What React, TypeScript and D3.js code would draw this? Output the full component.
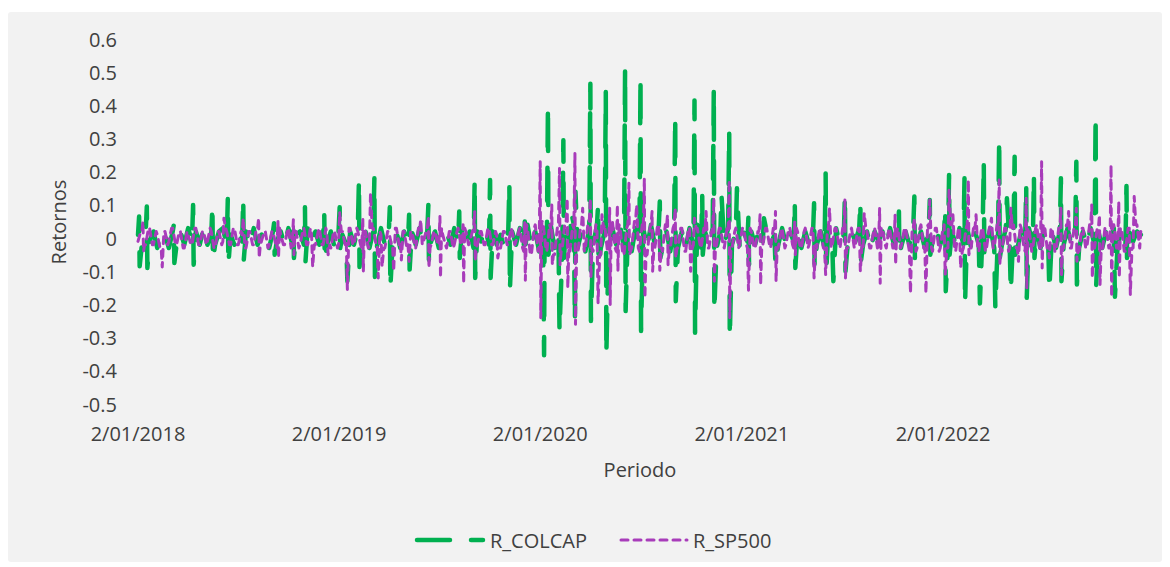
import React from "react";
import * as d3 from "d3";

// Readings are keyed by days since START_DATE (2018-01-02):
// weekly readings on day 7k, mid-week readings on day 7k+5 and
// daily readings on the days where the return jumps ([day, return]).
const START_DATE = "2018-01-02";
const WEEK = 7;
const MIDWEEK_OFFSET = 5;

const seriesNames = ["R_COLCAP", "R_SP500"];

const colcapWeekly = [
  0.01, -0.02, 0.02, -0.01, 0.02, -0.03, 0.02, 0.01, -0.03, 0.02,
  -0.02, 0.02, -0.02, 0.03, -0.01, 0.02, -0.02, 0.03, -0.02, 0.01,
  -0.02, 0.02, 0.03, -0.02, 0.01, -0.02, 0.02, -0.01, 0.02, -0.02,
  0.03, -0.02, 0.01, 0.02, -0.03, 0.02, -0.01, 0.02, -0.02, 0.03,
  -0.02, 0.01, 0.02, -0.02, 0.03, -0.01, 0.02, -0.02, 0.01, -0.02,
  0.02, -0.03, 0.02, 0.01, -0.02, 0.02, -0.02, 0.03, -0.01, 0.02,
  -0.03, 0.02, -0.02, 0.03, -0.02, 0.01, -0.02, 0.02, -0.03, 0.02,
  -0.01, 0.02, -0.02, 0.03, -0.02, 0.02, -0.01, 0.02, -0.03, 0.01,
  0.02, -0.02, 0.03, -0.01, 0.02, -0.02, 0.02, -0.03, 0.02, -0.01,
  0.03, -0.02, 0.02, -0.02, 0.01, -0.03, 0.02, 0.02, -0.02, 0.03,
  -0.03, 0.04, -0.03, 0.02, -0.04, 0.03, -0.02, 0.04, -0.03, 0.02,
  -0.04, 0.03, -0.02, 0.04, -0.03, 0.02, -0.04, 0.03, -0.02, 0.04,
  -0.03, 0.02, -0.04, 0.03, -0.02, 0.04, -0.03, 0.02, -0.04, 0.03,
  -0.02, 0.03, -0.03, 0.04, -0.02, 0.03, -0.03, 0.02, -0.04, 0.03,
  -0.03, 0.02, -0.03, 0.03, -0.02, 0.04, -0.03, 0.02, -0.02, 0.03,
  -0.03, 0.02, -0.02, 0.03, -0.02, 0.02, -0.03, 0.02, -0.01, 0.02,
  -0.02, 0.03, -0.01, 0.02, -0.02, 0.01, -0.02, 0.03, -0.02, 0.02,
  -0.01, 0.02, -0.03, 0.02, -0.02, 0.01, -0.02, 0.02, -0.03, 0.02,
  -0.02, 0.03, -0.02, 0.01, -0.02, 0.02, -0.01, 0.03, -0.02, 0.02,
  -0.03, 0.02, -0.01, 0.02, -0.02, 0.03, -0.02, 0.01, -0.02, 0.02,
  -0.02, 0.03, -0.02, 0.02, -0.03, 0.02, -0.01, 0.03, -0.02, 0.02,
  -0.03, 0.02, -0.02, 0.03, -0.02, 0.03, -0.03, 0.02, -0.02, 0.03,
  -0.02, 0.03, -0.03, 0.02, -0.02, 0.03, -0.02, 0.03, -0.03, 0.02,
  -0.02, 0.03, -0.02, 0.02, -0.03, 0.03, -0.02, 0.02, -0.03, 0.02,
  -0.02, 0.03, -0.02, 0.03, -0.03, 0.02, -0.02, 0.03, -0.02, 0.02,
  -0.03, 0.02, -0.02, 0.03, -0.02, 0.02, -0.03, 0.02, -0.01, 0.02,
  0.01,
];

const colcapJumps: [number, number][] = [
  [2, 0.065], [3, -0.085], [16, 0.095], [17, -0.09], [65, 0.04], [66, -0.075],
  [100, 0.10], [101, -0.08], [135, 0.10], [136, -0.066], [163, 0.12], [164, -0.08],
  [191, 0.12], [192, -0.065], [247, 0.045], [248, -0.05], [282, 0.05], [283, -0.06],
  [303, 0.094], [304, -0.07], [338, 0.078], [339, -0.066], [366, 0.093], [367, -0.03],
  [380, -0.13], [401, 0.175], [402, -0.087], [429, 0.18], [430, -0.117],
  [457, 0.093], [458, -0.15], [492, 0.07], [493, -0.095], [527, 0.10], [528, -0.07],
  [583, 0.08], [584, -0.06], [611, 0.175], [612, -0.12], [639, 0.175], [640, -0.12],
  [674, 0.165], [675, -0.157], [702, 0.05], [703, -0.03],
  [737, -0.353], [738, 0.05], [744, 0.40], [745, -0.05], [765, -0.28],
  [772, 0.295], [773, -0.06], [786, 0.08], [793, -0.25], [794, 0.14],
  [821, 0.465], [822, -0.25], [835, 0.10], [836, -0.08], [849, 0.44], [850, -0.35],
  [884, 0.51], [885, -0.22], [912, 0.485], [913, -0.28], [947, 0.11], [948, -0.06],
  [975, 0.365], [976, -0.19], [1010, 0.415], [1011, -0.285], [1024, 0.13], [1025, -0.05],
  [1045, 0.45], [1046, -0.22], [1059, 0.13], [1073, 0.32], [1074, -0.30], [1087, 0.15],
  [1108, 0.07], [1109, -0.08], [1136, 0.06], [1157, -0.08], [1192, 0.11], [1193, -0.09],
  [1227, 0.105], [1228, -0.087], [1248, 0.195], [1249, -0.1], [1262, -0.13],
  [1283, 0.13], [1284, -0.10], [1311, 0.11], [1312, -0.07], [1381, 0.08], [1382, -0.05],
  [1409, 0.125], [1410, -0.06], [1437, 0.115], [1438, -0.05], [1465, 0.09], [1466, -0.16],
  [1472, 0.19], [1473, -0.05], [1500, 0.18], [1501, -0.197], [1528, -0.197],
  [1535, 0.23], [1536, -0.05], [1556, -0.21], [1563, 0.30], [1564, -0.06],
  [1577, 0.12], [1584, -0.16], [1591, 0.245], [1592, -0.05], [1612, 0.16], [1613, -0.18],
  [1626, 0.19], [1627, -0.06], [1654, -0.157], [1675, 0.18], [1676, -0.13],
  [1703, 0.23], [1704, -0.14], [1738, 0.37], [1739, -0.145], [1773, -0.177],
  [1794, 0.157], [1795, -0.06],
];

const sp500Weekly = [
  -0.01, 0.02, -0.02, 0.03, -0.02, 0.01, -0.03, 0.02, -0.01, 0.03,
  -0.02, 0.02, -0.03, 0.01, -0.02, 0.03, -0.02, 0.02, -0.01, 0.02,
  -0.03, 0.02, -0.01, 0.02, -0.02, 0.03, -0.02, 0.01, -0.03, 0.02,
  -0.02, 0.03, -0.01, 0.02, -0.02, 0.02, -0.03, 0.01, -0.02, 0.03,
  -0.01, 0.02, -0.02, 0.03, -0.02, 0.01, -0.02, 0.03, -0.02, 0.01,
  -0.03, 0.02, -0.02, 0.02, -0.01, 0.03, -0.02, 0.02, -0.03, 0.02,
  -0.02, 0.03, -0.02, 0.01, -0.03, 0.02, -0.02, 0.03, -0.01, 0.02,
  -0.02, 0.02, -0.03, 0.02, -0.01, 0.03, -0.02, 0.02, -0.02, 0.01,
  -0.03, 0.02, -0.02, 0.03, -0.02, 0.02, -0.01, 0.03, -0.02, 0.02,
  -0.02, 0.03, -0.02, 0.01, -0.03, 0.02, -0.02, 0.02, -0.01, 0.03,
  -0.04, 0.03, -0.05, 0.04, -0.03, 0.05, -0.04, 0.03, -0.05, 0.04,
  -0.03, 0.05, -0.04, 0.03, -0.05, 0.04, -0.03, 0.05, -0.04, 0.03,
  -0.05, 0.04, -0.03, 0.05, -0.04, 0.03, -0.05, 0.04, -0.03, 0.05,
  -0.04, 0.03, -0.05, 0.04, -0.03, 0.04, -0.04, 0.03, -0.03, 0.04,
  -0.03, 0.03, -0.04, 0.03, -0.02, 0.03, -0.03, 0.02, -0.03, 0.03,
  -0.02, 0.03, -0.03, 0.02, -0.03, 0.03, -0.02, 0.03, -0.03, 0.02,
  -0.03, 0.02, -0.02, 0.03, -0.03, 0.02, -0.03, 0.03, -0.02, 0.03,
  -0.03, 0.02, -0.03, 0.03, -0.02, 0.03, -0.03, 0.02, -0.03, 0.03,
  -0.02, 0.03, -0.03, 0.02, -0.03, 0.03, -0.02, 0.03, -0.03, 0.02,
  -0.03, 0.03, -0.02, 0.03, -0.03, 0.02, -0.03, 0.03, -0.02, 0.03,
  -0.04, 0.03, -0.03, 0.04, -0.03, 0.03, -0.04, 0.03, -0.03, 0.04,
  -0.03, 0.04, -0.04, 0.03, -0.03, 0.04, -0.03, 0.03, -0.04, 0.03,
  -0.03, 0.04, -0.03, 0.03, -0.04, 0.03, -0.03, 0.04, -0.03, 0.03,
  -0.04, 0.03, -0.03, 0.04, -0.03, 0.04, -0.03, 0.03, -0.04, 0.03,
  -0.03, 0.04, -0.03, 0.03, -0.04, 0.03, -0.03, 0.04, -0.03, 0.03,
  -0.04, 0.03, -0.03, 0.04, -0.03, 0.03, -0.04, 0.03, -0.03, 0.04,
  0.02,
];

const sp500Midweek = [
  0.02, -0.02, 0.03, -0.02, 0.02, -0.03, 0.02, -0.02, 0.03, -0.02,
  0.02, -0.03, 0.02, -0.02, 0.03, -0.02, 0.02, -0.02, 0.03, -0.03,
  0.02, -0.02, 0.03, -0.02, 0.03, -0.02, 0.02, -0.03, 0.02, -0.02,
  0.03, -0.02, 0.02, -0.03, 0.02, -0.02, 0.03, -0.02, 0.02, -0.03,
  0.02, -0.03, 0.02, -0.02, 0.03, -0.02, 0.02, -0.02, 0.03, -0.02,
  0.02, -0.03, 0.02, -0.02, 0.03, -0.02, 0.03, -0.02, 0.02, -0.03,
  0.03, -0.02, 0.02, -0.03, 0.02, -0.02, 0.03, -0.02, 0.02, -0.03,
  0.02, -0.02, 0.03, -0.02, 0.02, -0.03, 0.02, -0.02, 0.03, -0.02,
  0.02, -0.03, 0.02, -0.02, 0.03, -0.02, 0.02, -0.03, 0.02, -0.02,
  0.03, -0.02, 0.02, -0.03, 0.02, -0.02, 0.03, -0.02, 0.02, -0.03,
  0.04, -0.05, 0.03, -0.04, 0.05, -0.03, 0.04, -0.05, 0.03, -0.04,
  0.05, -0.03, 0.04, -0.05, 0.03, -0.04, 0.05, -0.03, 0.04, -0.05,
  0.03, -0.04, 0.05, -0.03, 0.04, -0.05, 0.03, -0.04, 0.05, -0.03,
  0.04, -0.05, 0.03, -0.04, 0.04, -0.03, 0.04, -0.04, 0.03, -0.03,
  0.03, -0.04, 0.03, -0.03, 0.03, -0.02, 0.03, -0.03, 0.02, -0.03,
  0.03, -0.02, 0.03, -0.03, 0.02, -0.03, 0.03, -0.02, 0.03, -0.03,
  0.02, -0.03, 0.03, -0.02, 0.03, -0.03, 0.02, -0.03, 0.03, -0.02,
  0.03, -0.03, 0.02, -0.03, 0.03, -0.02, 0.03, -0.03, 0.02, -0.03,
  0.03, -0.02, 0.03, -0.03, 0.02, -0.03, 0.03, -0.02, 0.03, -0.03,
  0.02, -0.03, 0.03, -0.02, 0.03, -0.03, 0.02, -0.03, 0.03, -0.02,
  0.03, -0.04, 0.03, -0.03, 0.04, -0.03, 0.03, -0.04, 0.03, -0.03,
  0.04, -0.03, 0.03, -0.04, 0.03, -0.03, 0.04, -0.03, 0.03, -0.04,
  0.03, -0.03, 0.04, -0.03, 0.03, -0.04, 0.03, -0.03, 0.04, -0.03,
  0.03, -0.04, 0.03, -0.03, 0.04, -0.03, 0.03, -0.04, 0.03, -0.03,
  0.04, -0.03, 0.03, -0.04, 0.03, -0.03, 0.04, -0.03, 0.03, -0.04,
  0.03, -0.03, 0.04, -0.03, 0.03, -0.04, 0.03, -0.03, 0.04, -0.03,
];

const sp500Jumps: [number, number][] = [
  [9, 0.05], [10, -0.04], [44, -0.087], [156, 0.06], [191, 0.06], [219, 0.06], [220, -0.06],
  [254, 0.05], [255, -0.06], [282, 0.055], [283, -0.05], [317, -0.087], [345, -0.05],
  [366, 0.078], [380, -0.155], [408, 0.06], [409, -0.10], [422, 0.135], [436, -0.12],
  [443, -0.087], [464, -0.10], [478, -0.066], [492, -0.07], [513, 0.055],
  [527, 0.065], [528, -0.09], [548, 0.065], [549, -0.12], [590, 0.04], [591, -0.136],
  [611, 0.08], [612, -0.07], [653, -0.06], [702, 0.05], [703, -0.127],
  [730, 0.23], [731, -0.24], [751, 0.10], [752, -0.08], [765, 0.21], [766, -0.08],
  [779, 0.12], [780, -0.15], [793, 0.255], [794, -0.26], [807, 0.09],
  [821, 0.12], [822, -0.12], [835, -0.195], [842, 0.07], [856, 0.09], [857, -0.2],
  [870, 0.10], [871, -0.10], [891, 0.165], [892, -0.05], [905, 0.10],
  [919, 0.18], [920, -0.18], [933, 0.08], [934, -0.10], [947, -0.097],
  [961, 0.07], [962, -0.08], [975, 0.09], [976, -0.06], [1003, -0.10], [1010, 0.06],
  [1031, 0.08], [1045, 0.12], [1046, -0.13], [1073, 0.175], [1074, -0.24],
  [1108, -0.157], [1129, 0.07], [1130, -0.14], [1157, 0.08], [1158, -0.13],
  [1192, 0.05], [1193, -0.05], [1227, -0.12], [1248, -0.11], [1255, 0.09],
  [1283, 0.115], [1284, -0.12], [1311, -0.10], [1318, 0.075], [1346, 0.09], [1347, -0.136],
  [1374, 0.07], [1375, -0.08], [1402, -0.166], [1409, 0.06], [1430, -0.166], [1437, 0.115],
  [1465, -0.11], [1472, 0.145], [1479, 0.07], [1493, -0.09], [1507, 0.175], [1508, -0.05],
  [1521, 0.07], [1549, 0.06], [1563, 0.175], [1564, -0.08], [1584, 0.09], [1598, -0.07],
  [1612, 0.12], [1613, -0.15], [1640, 0.23], [1641, -0.09], [1654, -0.06],
  [1675, 0.09], [1676, -0.11], [1689, 0.08], [1703, 0.09], [1704, -0.07],
  [1731, 0.10], [1732, -0.12], [1745, 0.07], [1746, -0.14], [1766, 0.22], [1767, -0.177],
  [1780, 0.11], [1781, -0.12], [1801, -0.17], [1808, 0.125],
];

const xTickDates = ["2018-01-02", "2019-01-02", "2020-01-02", "2021-01-02", "2022-01-02"];
const xTickLabels = ["2/01/2018", "2/01/2019", "2/01/2020", "2/01/2021", "2/01/2022"];
const yTicks = [0.6, 0.5, 0.4, 0.3, 0.2, 0.1, 0, -0.1, -0.2, -0.3, -0.4, -0.5];
const yTickLabels = ["0.6", "0.5", "0.4", "0.3", "0.2", "0.1", "0", "-0.1", "-0.2", "-0.3", "-0.4", "-0.5"];

const W = 1170;
const H = 567;
const FONT = "'Open Sans', 'Liberation Sans', sans-serif";
const TEXT = "#404040";
const GREEN = "#00b050";
const PURPLE = "#a83cba";

const parse = d3.utcParse("%Y-%m-%d");

type Pt = { date: Date; v: number };

function buildSeries(
  start: Date,
  weekly: number[],
  midweek: number[],
  jumps: [number, number][]
): Pt[] {
  const pts: { day: number; v: number }[] = weekly.map((v, i) => ({ day: i * WEEK, v }));
  midweek.forEach((v, i) => pts.push({ day: i * WEEK + MIDWEEK_OFFSET, v }));
  jumps.forEach(([day, v]) => pts.push({ day, v }));
  pts.sort((a, b) => a.day - b.day);
  return pts.map((p) => ({ date: d3.utcDay.offset(start, p.day), v: p.v }));
}

export default function App() {
  const start = parse(START_DATE) as Date;
  const colcap = buildSeries(start, colcapWeekly, [], colcapJumps);
  const sp500 = buildSeries(start, sp500Weekly, sp500Midweek, sp500Jumps);
  const lastDate = d3.max([...colcap, ...sp500], (d) => d.date) as Date;

  // 2/01/2018 -> 2/01/2022 spans 805px
  const pxPerDay = 805 / 1461;
  const x = d3
    .scaleUtc()
    .domain([start, lastDate])
    .range([138, 138 + d3.utcDay.count(start, lastDate) * pxPerDay]);
  const y = d3.scaleLinear().domain([-0.5, 0.6]).range([404, 39]);

  const line = d3
    .line<Pt>()
    .x((d) => x(d.date))
    .y((d) => y(d.v));

  const greenDash = "33 21";
  const purpleDash = "7 6";

  return (
    <svg
      width={W}
      height={H}
      style={{ position: "absolute", left: 0, top: 0, display: "block", background: "#ffffff" }}
    >
      <rect x={8} y={12} width={1154} height={550} rx={3} fill="#f2f2f2" />

      {yTicks.map((t, i) => (
        <text
          key={"y" + i}
          x={117}
          y={y(t)}
          textAnchor="end"
          dominantBaseline="central"
          fontFamily={FONT}
          fontSize={20}
          fill={TEXT}
        >
          {yTickLabels[i]}
        </text>
      ))}

      {xTickDates.map((d, i) => (
        <text
          key={"x" + i}
          x={x(parse(d) as Date)}
          y={441}
          textAnchor="middle"
          fontFamily={FONT}
          fontSize={20}
          fill={TEXT}
        >
          {xTickLabels[i]}
        </text>
      ))}

      <text x={640} y={477} textAnchor="middle" fontFamily={FONT} fontSize={20} fill={TEXT}>
        Periodo
      </text>
      <text
        transform="translate(66,222) rotate(-90)"
        textAnchor="middle"
        fontFamily={FONT}
        fontSize={20}
        fill={TEXT}
      >
        Retornos
      </text>

      <path
        d={line(colcap) || ""}
        fill="none"
        stroke={GREEN}
        strokeWidth={4.5}
        strokeDasharray={greenDash}
        strokeLinecap="round"
        strokeLinejoin="round"
      />
      <path
        d={line(sp500) || ""}
        fill="none"
        stroke={PURPLE}
        strokeWidth={3}
        strokeDasharray={purpleDash}
        strokeLinecap="round"
        strokeLinejoin="round"
      />

      <g>
        <line
          x1={417}
          x2={483}
          y1={540}
          y2={540}
          stroke={GREEN}
          strokeWidth={4.5}
          strokeDasharray={greenDash}
          strokeLinecap="round"
        />
        <text x={490} y={540} dominantBaseline="central" fontFamily={FONT} fontSize={20} fill={TEXT}>
          {seriesNames[0]}
        </text>
        <line
          x1={621}
          x2={687}
          y1={540}
          y2={540}
          stroke={PURPLE}
          strokeWidth={3}
          strokeDasharray={purpleDash}
          strokeLinecap="round"
        />
        <text x={693} y={540} dominantBaseline="central" fontFamily={FONT} fontSize={20} fill={TEXT}>
          {seriesNames[1]}
        </text>
      </g>
    </svg>
  );
}
